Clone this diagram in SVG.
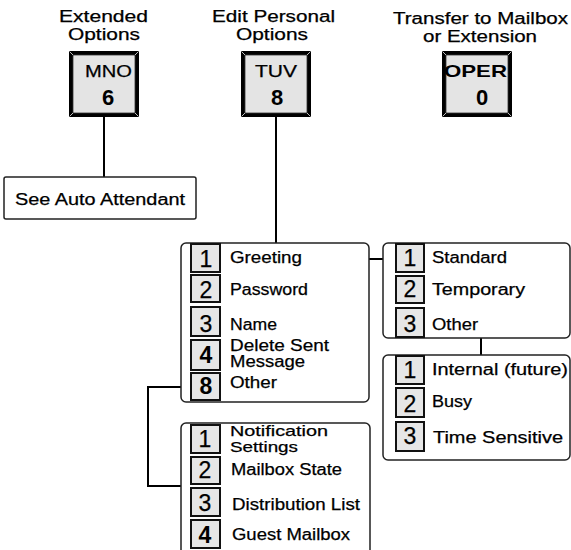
<svg xmlns="http://www.w3.org/2000/svg" width="571" height="550" viewBox="0 0 571 550">
<style>
text{font-family:"Liberation Sans",Arial,sans-serif;fill:#000;stroke:#000;stroke-width:0.25}
.t{font-size:16px}
.m{font-size:16px}
.s{font-size:15px}
.d{font-size:23px;text-anchor:middle}
.b{font-weight:bold;stroke-width:0}
.kl{font-size:17px}
.kd{font-size:22px;text-anchor:middle;font-weight:bold;stroke-width:0}
.box{fill:#fff;stroke:#222;stroke-width:1.5}
.sq{fill:#e6e6e6;stroke:#111;stroke-width:2}
.kout{fill:#000}
.kin{fill:#e4e4e4;stroke:#333;stroke-width:0.8}
.bev{stroke:#bdbdbd;stroke-width:1}
.c{fill:none;stroke:#000;stroke-width:2}
</style>
<defs>
<g id="key">
<rect class="kout" x="0" y="0" width="70" height="66"/>
<rect class="kin" x="4" y="4" width="62" height="58"/>
<path class="bev" d="M0.5,0.5L4,4M69.5,0.5L66,4M0.5,65.5L4,62M69.5,65.5L66,62"/>
</g>
</defs>

<g id="connectors">
<line class="c" x1="104" y1="117" x2="104" y2="177"/>
<line class="c" x1="276" y1="117" x2="276" y2="243"/>
<line class="c" x1="312" y1="259" x2="383" y2="259"/>
<line class="c" x1="481" y1="338" x2="481" y2="355"/>
<polyline class="c" points="191,387 148,387 148,486 181,486"/>
</g>

<g id="key-mno">
<text class="t" x="59" y="22" textLength="89" lengthAdjust="spacingAndGlyphs">Extended</text>
<text class="t" x="68" y="40" textLength="72" lengthAdjust="spacingAndGlyphs">Options</text>
<use href="#key" x="69" y="51"/>
<text class="kl" x="85" y="77" textLength="47" lengthAdjust="spacingAndGlyphs">MNO</text>
<text class="kd" x="108" y="105">6</text>
</g>

<g id="key-tuv">
<text class="t" x="212" y="22" textLength="123" lengthAdjust="spacingAndGlyphs">Edit Personal</text>
<text class="t" x="236" y="40" textLength="72" lengthAdjust="spacingAndGlyphs">Options</text>
<use href="#key" x="241" y="51"/>
<text class="kl" x="255" y="77" textLength="42" lengthAdjust="spacingAndGlyphs">TUV</text>
<text class="kd" x="277" y="105">8</text>
</g>

<g id="key-oper">
<text class="t" x="393" y="24" textLength="175" lengthAdjust="spacingAndGlyphs">Transfer to Mailbox</text>
<text class="t" x="423" y="42" textLength="114" lengthAdjust="spacingAndGlyphs">or Extension</text>
<use href="#key" x="442" y="51"/>
<text class="kl b" x="444" y="77" textLength="63" lengthAdjust="spacingAndGlyphs">OPER</text>
<text class="kd" x="482" y="105">0</text>
</g>

<g id="see-auto-attendant">
<rect class="box" x="4" y="177" width="192" height="42" rx="2"/>
<text class="m" x="15" y="205" textLength="170" lengthAdjust="spacingAndGlyphs">See Auto Attendant</text>
</g>

<g id="menu-personal">
<rect class="box" x="181" y="243" width="188" height="159" rx="5"/>
<rect class="sq" x="191" y="244" width="29" height="28"/>
<rect class="sq" x="191" y="275" width="29" height="27"/>
<rect class="sq" x="191" y="307" width="29" height="29"/>
<rect class="sq" x="191" y="340" width="29" height="30"/>
<rect class="sq" x="191" y="373" width="29" height="27"/>
<text class="d" x="206" y="267">1</text>
<text class="d" x="206" y="298">2</text>
<text class="d" x="206" y="332">3</text>
<text class="d b" x="206" y="363">4</text>
<text class="d b" x="206" y="394">8</text>
<text class="m" x="230" y="263" textLength="72" lengthAdjust="spacingAndGlyphs">Greeting</text>
<text class="m" x="230" y="295" textLength="78" lengthAdjust="spacingAndGlyphs">Password</text>
<text class="m" x="230" y="330" textLength="47" lengthAdjust="spacingAndGlyphs">Name</text>
<text class="m" x="230" y="351" textLength="99" lengthAdjust="spacingAndGlyphs">Delete Sent</text>
<text class="m" x="230" y="367" textLength="75" lengthAdjust="spacingAndGlyphs">Message</text>
<text class="m" x="230" y="388" textLength="47" lengthAdjust="spacingAndGlyphs">Other</text>
</g>

<g id="menu-greeting">
<rect class="box" x="383" y="243" width="187" height="95" rx="5"/>
<rect class="sq" x="396" y="244" width="28" height="28"/>
<rect class="sq" x="396" y="276" width="28" height="27"/>
<rect class="sq" x="396" y="308" width="28" height="29"/>
<text class="d" x="410" y="266">1</text>
<text class="d" x="410" y="297">2</text>
<text class="d" x="410" y="332">3</text>
<text class="m" x="432" y="263" textLength="75" lengthAdjust="spacingAndGlyphs">Standard</text>
<text class="m" x="432" y="295" textLength="93" lengthAdjust="spacingAndGlyphs">Temporary</text>
<text class="m" x="432" y="330" textLength="46" lengthAdjust="spacingAndGlyphs">Other</text>
</g>

<g id="menu-other-greeting">
<rect class="box" x="383" y="355" width="187" height="105" rx="5"/>
<rect class="sq" x="396" y="356" width="28" height="28"/>
<rect class="sq" x="396" y="388" width="28" height="29"/>
<rect class="sq" x="396" y="422" width="28" height="29"/>
<text class="d" x="410" y="378">1</text>
<text class="d" x="410" y="412">2</text>
<text class="d" x="410" y="444">3</text>
<text class="m" x="432" y="375" textLength="136" lengthAdjust="spacingAndGlyphs">Internal (future)</text>
<text class="m" x="432" y="407" textLength="40" lengthAdjust="spacingAndGlyphs">Busy</text>
<text class="m" x="433" y="443" textLength="130" lengthAdjust="spacingAndGlyphs">Time Sensitive</text>
</g>

<g id="menu-other">
<rect class="box" x="181" y="423" width="189" height="135" rx="5"/>
<rect class="sq" x="191" y="425" width="29" height="28"/>
<rect class="sq" x="191" y="457" width="29" height="27"/>
<rect class="sq" x="191" y="488" width="29" height="28"/>
<rect class="sq" x="191" y="520" width="29" height="28"/>
<text class="d" x="205" y="447">1</text>
<text class="d" x="205" y="478">2</text>
<text class="d" x="205" y="511">3</text>
<text class="d b" x="205" y="543">4</text>
<text class="s" x="230" y="436" textLength="98" lengthAdjust="spacingAndGlyphs">Notification</text>
<text class="s" x="230" y="452" textLength="68" lengthAdjust="spacingAndGlyphs">Settings</text>
<text class="m" x="231" y="475" textLength="111" lengthAdjust="spacingAndGlyphs">Mailbox State</text>
<text class="m" x="232" y="510" textLength="128" lengthAdjust="spacingAndGlyphs">Distribution List</text>
<text class="m" x="232" y="540" textLength="118" lengthAdjust="spacingAndGlyphs">Guest Mailbox</text>
</g>
</svg>
